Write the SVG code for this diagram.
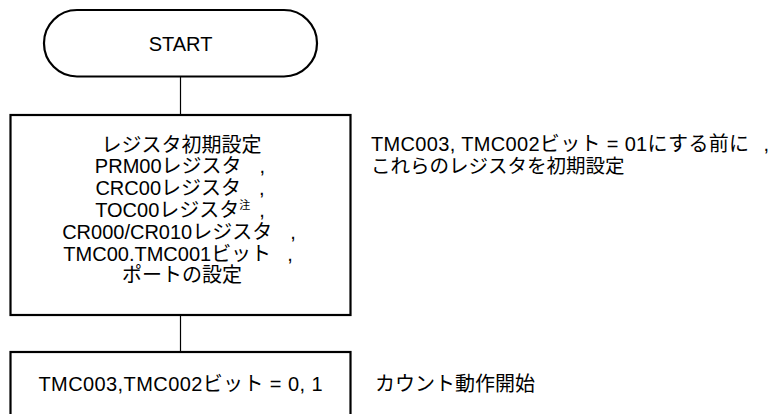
<svg xmlns="http://www.w3.org/2000/svg" width="776" height="414" viewBox="0 0 776 414">
<style>
.t{font-family:"Liberation Sans","Noto Sans CJK JP",sans-serif;font-size:19.5px;fill:#000}
.b{font-size:20px}
.m{text-anchor:middle}
.box{fill:#fff;stroke:#000;stroke-width:2.2}
.ln{stroke:#000;stroke-width:1.2;fill:none}
.sup{font-size:11px}
</style>
<rect width="776" height="414" fill="#fff"/>
<g id="connectors">
<line class="ln" x1="180.5" y1="76" x2="180.5" y2="115"/>
<line class="ln" x1="180.5" y1="315" x2="180.5" y2="352"/>
</g>
<g id="start">
<rect class="box" x="44" y="10" width="273" height="66.5" rx="33" ry="33"/>
<text class="t b m" x="180.5" y="51">START</text>
</g>
<g id="init">
<rect class="box" x="10.5" y="115" width="340" height="200"/>
<text class="t b m" x="181.5" y="151.5">レジスタ初期設定</text>
<text class="t b m" x="180" y="173.3">PRM00レジスタ<tspan dx="18">,</tspan></text>
<text class="t b m" x="180" y="195.1">CRC00レジスタ<tspan dx="18">,</tspan></text>
<text class="t b m" x="180" y="216.9">TOC00レジスタ<tspan class="sup" dy="-8">注</tspan><tspan dy="8" dx="9">,</tspan></text>
<text class="t b m" x="179" y="238.7">CR000/CR010レジスタ<tspan dx="18">,</tspan></text>
<text class="t b m" x="178" y="260.5">TMC00.TMC001ビット<tspan dx="16">,</tspan></text>
<text class="t b m" x="182" y="282.3">ポートの設定</text>
</g>
<g id="note1">
<text class="t b" x="371" y="151" textLength="398" lengthAdjust="spacing">TMC003, TMC002ビット = 01にする前に<tspan dx="14">,</tspan></text>
<text class="t" x="371" y="173">これらのレジスタを初期設定</text>
</g>
<g id="count">
<rect class="box" x="10.5" y="352" width="340" height="80"/>
<text class="t b m" x="180.5" y="390.5" textLength="284" lengthAdjust="spacing">TMC003,TMC002ビット = 0, 1</text>
</g>
<g id="note2">
<text class="t b" x="375" y="390.5">カウント動作開始</text>
</g>
</svg>
